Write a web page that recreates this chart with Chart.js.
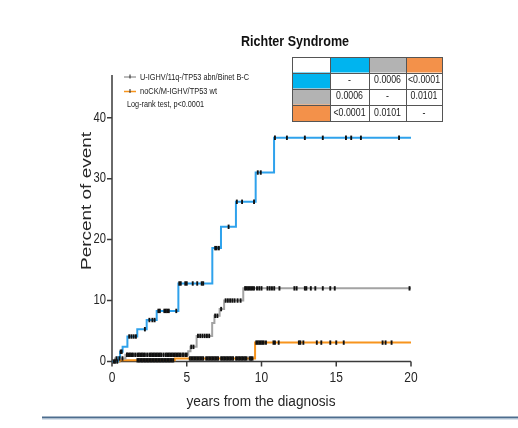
<!DOCTYPE html>
<html>
<head>
<meta charset="utf-8">
<script src="https://cdn.jsdelivr.net/npm/chart.js@4.4.0/dist/chart.umd.min.js"></script>
<style>
	html, body { margin: 0; padding: 0; background: #ffffff; }
	#grafico { display: block; }
</style>
</head>
<body>
<canvas id="grafico" width="518" height="428"></canvas>
<script>
var chartTitle = "Richter Syndrome";
var xAxisTitle = "years from the diagnosis";
var yAxisTitle = "Percent of event";
var xTicks = [0, 5, 10, 15, 20];
var yTicks = [0, 10, 20, 30, 40];
var legendLabels = ["U-IGHV/11q-/TP53 abn/Binet B-C", "noCK/M-IGHV/TP53 wt"];
var logRankText = "Log-rank test, p<0.0001";

// cumulative incidence steps (years, percent)
var blueTimes  = [0, 0.42, 0.54, 0.71, 1.03, 1.69, 2.32, 2.99, 4.44, 6.71, 7.29, 8.29, 9.61, 10.84, 20];
var blueValues = [0, 0.7, 1.6, 2.4, 4.1, 5.3, 6.8, 8.3, 12.8, 18.6, 22.1, 26.2, 31.0, 36.7, 36.7];
var greyTimes  = [0, 0.2, 0.9, 5.1, 5.25, 5.66, 6.7, 6.85, 7.2, 7.5, 8.78, 20];
var greyValues = [0, 0.5, 1.1, 1.7, 2.4, 4.2, 6.3, 7.5, 8.6, 10.0, 12.0, 12.0];
var orangeTimes  = [0, 0.5, 4.2, 9.57, 20];
var orangeValues = [0, 0.2, 0.5, 3.1, 3.1];

// censored observations (years)
var blueCensor = [0.2, 0.35, 0.58, 0.65, 1.15, 1.3, 1.45, 1.6, 2.2, 2.5, 2.7, 2.85, 3.1, 3.2, 3.5, 3.6, 3.7, 3.8, 4.3,
	4.5, 4.6, 4.9, 5.0, 5.4, 5.7, 6.0, 6.1, 6.9, 7.0, 7.15, 7.8, 8.35, 8.7, 9.5, 9.75, 9.95,
	10.9, 11.7, 12.9, 14.1, 15.65, 16.0, 16.65, 19.2];
var greyCensor = [0.1, 0.3, 0.5, 0.7, 1.0, 1.1, 1.2, 1.3, 1.4, 1.55, 1.7, 1.8, 1.9, 2.0, 2.1, 2.2, 2.35, 2.5, 2.6, 2.7,
	2.8, 2.9, 3.0, 3.1, 3.2, 3.3, 3.45, 3.6, 3.7, 3.8, 3.9, 4.0, 4.1, 4.2, 4.3, 4.4, 4.5, 4.6, 4.75, 4.9, 5.0,
	5.3, 5.45, 5.75, 5.9, 6.05, 6.2, 6.35, 6.5, 6.9, 7.05, 7.3, 7.6, 7.75, 7.9, 8.05, 8.2, 8.4, 8.6,
	8.9, 9.0, 9.1, 9.2, 9.3, 9.4, 9.5, 9.7, 9.85, 10.0, 10.4, 10.55, 10.7, 10.85, 11.2, 12.2, 12.35,
	12.9, 13.0, 13.3, 13.6, 14.1, 14.6, 14.9, 19.9];
var orangeCensor = [1.7, 1.8, 1.9, 2.0, 2.1, 2.2, 2.3, 2.4, 2.5, 2.6, 2.7, 2.8, 2.9, 3.0, 3.1, 3.2, 3.3, 3.4, 3.5, 3.6,
	3.7, 3.8, 3.9, 4.0, 4.1, 5.2, 5.3, 5.4, 5.5, 5.6, 5.7, 5.8, 5.9, 6.0, 6.1, 6.3, 6.4, 6.5, 6.6, 6.7, 6.8,
	6.9, 7.0, 7.1, 7.3, 7.4, 7.5, 7.6, 7.7, 7.8, 7.9, 8.0, 8.1, 8.3, 8.4, 8.5, 8.6, 8.7, 8.8, 8.9, 9.0, 9.2, 9.3, 9.4,
	9.65, 9.75, 9.85, 9.95, 10.05, 10.15, 10.3, 10.8, 10.9, 11.15, 12.5, 12.6, 12.8, 13.7, 14.0, 14.6,
	15.0, 15.5, 18.1, 18.3, 18.7];

// pairwise log-rank p values
var tableColors = ["#00b4ef", "#b3b3b3", "#f3914a"];
var pRow1 = ["-", "0.0006", "<0.0001"];
var pRow2 = ["0.0006", "-", "0.0101"];
var pRow3 = ["<0.0001", "0.0101", "-"];

var fontFamily = "'Liberation Sans', Arial, sans-serif";

function stepValue(times, values, t)
{
	var v = values[0];
	for(var i=0; i<times.length; i++)
	{
		if(times[i] <= t)
			v = values[i];
	}
	return v;
}

function curveData(times, values)
{
	var data = [];
	for(var i=0; i<times.length; i++)
		data.push({x: times[i], y: values[i]});
	return data;
}

function censorData(times, values, censor)
{
	var data = [];
	for(var i=0; i<censor.length; i++)
		data.push({x: censor[i], y: stepValue(times, values, censor[i])});
	return data;
}

function fitText(ctx, text, x, y, font, width, align)
{
	ctx.save();
	ctx.font = font;
	var natural = ctx.measureText(text).width;
	ctx.translate(x, y);
	ctx.scale(width / natural, 1);
	ctx.textAlign = align;
	ctx.textBaseline = "middle";
	ctx.fillText(text, 0, 0);
	ctx.restore();
}

function squeezeText(ctx, text, x, y, font, factor, align)
{
	ctx.save();
	ctx.font = font;
	ctx.translate(x, y);
	ctx.scale(factor, 1);
	ctx.textAlign = align;
	ctx.textBaseline = "middle";
	ctx.fillText(text, 0, 0);
	ctx.restore();
}

var axesPlugin = {
	id: "axesPlugin",
	beforeDatasetsDraw: function(chart)
	{
		var ctx = chart.ctx;
		var xs = chart.scales.x;
		var ys = chart.scales.y;
		var area = chart.chartArea;
		ctx.save();
		ctx.strokeStyle = "#3a3a3a";
		ctx.lineWidth = 1.5;
		ctx.beginPath();
		ctx.moveTo(area.left, area.top);
		ctx.lineTo(area.left, area.bottom);
		ctx.lineTo(area.right, area.bottom);
		for(var i=0; i<xTicks.length; i++)
		{
			var px = xs.getPixelForValue(xTicks[i]);
			ctx.moveTo(px, area.bottom);
			ctx.lineTo(px, area.bottom + 5);
		}
		for(var j=0; j<yTicks.length; j++)
		{
			var py = ys.getPixelForValue(yTicks[j]);
			ctx.moveTo(area.left, py);
			ctx.lineTo(area.left - 5, py);
		}
		ctx.stroke();
		ctx.restore();
	},
	afterDraw: function(chart)
	{
		var ctx = chart.ctx;
		var xs = chart.scales.x;
		var ys = chart.scales.y;
		var area = chart.chartArea;
		ctx.save();
		ctx.fillStyle = "#262626";

		for(var i=0; i<xTicks.length; i++)
			squeezeText(ctx, String(xTicks[i]), xs.getPixelForValue(xTicks[i]), area.bottom + 16, "15px " + fontFamily, 0.8, "center");
		for(var j=0; j<yTicks.length; j++)
			squeezeText(ctx, String(yTicks[j]), area.left - 6, ys.getPixelForValue(yTicks[j]), "14px " + fontFamily, 0.8, "right");

		fitText(ctx, xAxisTitle, 261, 402, "14px " + fontFamily, 149, "center");

		ctx.save();
		ctx.translate(87, 201);
		ctx.rotate(-Math.PI / 2);
		fitText(ctx, yAxisTitle, 0, 0, "15px " + fontFamily, 138, "center");
		ctx.restore();

		ctx.fillStyle = "#111111";
		fitText(ctx, chartTitle, 295, 42, "bold 15px " + fontFamily, 108, "center");

		// legend
		var legendColors = ["#777777", "#f7941d"];
		var legendY = [77, 91.5];
		for(var k=0; k<legendLabels.length; k++)
		{
			ctx.strokeStyle = legendColors[k];
			ctx.lineWidth = k == 0 ? 1 : 1.5;
			ctx.beginPath();
			ctx.moveTo(124, legendY[k]);
			ctx.lineTo(136, legendY[k]);
			ctx.stroke();
			ctx.strokeStyle = "#222222";
			ctx.lineWidth = 1;
			ctx.beginPath();
			ctx.moveTo(130, legendY[k] - 2.5);
			ctx.lineTo(130, legendY[k] + 1.5);
			ctx.stroke();
			ctx.fillStyle = "#222222";
			fitText(ctx, legendLabels[k], 140, legendY[k], "9.5px " + fontFamily, k == 0 ? 109 : 77, "left");
		}
		fitText(ctx, logRankText, 127, 104.5, "9.5px " + fontFamily, 77, "left");

		// p value table
		var cols = [292, 330, 369, 406, 442];
		var rows = [57, 72.5, 88.5, 104.5, 121];
		var pRows = [pRow1, pRow2, pRow3];
		for(var c=0; c<3; c++)
		{
			ctx.fillStyle = tableColors[c];
			ctx.fillRect(cols[c + 1], rows[0], cols[c + 2] - cols[c + 1], rows[1] - rows[0]);
			ctx.fillRect(cols[0], rows[c + 1], cols[1] - cols[0], rows[c + 2] - rows[c + 1]);
		}
		ctx.fillStyle = "#1a1a1a";
		for(var r=0; r<3; r++)
		{
			for(var q=0; q<3; q++)
			{
				var cx = (cols[q + 1] + cols[q + 2]) / 2;
				var cy = (rows[r + 1] + rows[r + 2]) / 2;
				squeezeText(ctx, pRows[r][q], cx, cy, "10px " + fontFamily, 0.88, "center");
			}
		}
		ctx.strokeStyle = "#555555";
		ctx.lineWidth = 1;
		ctx.beginPath();
		for(var a=0; a<cols.length; a++)
		{
			ctx.moveTo(cols[a] + 0.5, rows[0]);
			ctx.lineTo(cols[a] + 0.5, rows[rows.length - 1]);
		}
		for(var b=0; b<rows.length; b++)
		{
			ctx.moveTo(cols[0], Math.round(rows[b]) + 0.5);
			ctx.lineTo(cols[cols.length - 1] + 1, Math.round(rows[b]) + 0.5);
		}
		ctx.stroke();

		// bottom rule
		ctx.fillStyle = "#4d6d8e";
		ctx.fillRect(42, 416.5, 476, 2);
		ctx.fillStyle = "#b4c6d8";
		ctx.fillRect(42, 418.5, 476, 1);
		ctx.restore();
	}
};

function censorSet(times, values, censor)
{
	return {
		type: "scatter",
		data: censorData(times, values, censor),
		showLine: false,
		pointStyle: "line",
		rotation: 90,
		pointRadius: 2.2,
		borderColor: "#111111",
		backgroundColor: "#111111",
		pointBorderWidth: 1.9,
		clip: false,
		order: 0
	};
}

function lineSet(label, times, values, color, order)
{
	return {
		label: label,
		data: curveData(times, values),
		stepped: "before",
		borderColor: color,
		borderWidth: 2,
		pointRadius: 0,
		fill: false,
		clip: false,
		order: order
	};
}

var ctx = document.getElementById("grafico");
var myChart = new Chart(ctx, {
	type: "line",
	data: {
		datasets: [
			lineSet(legendLabels[0], blueTimes, blueValues, "#2fa2ec", 1),
			lineSet("", greyTimes, greyValues, "#a3a3a3", 2),
			lineSet(legendLabels[1], orangeTimes, orangeValues, "#f7941d", 3),
			censorSet(blueTimes, blueValues, blueCensor),
			censorSet(greyTimes, greyValues, greyCensor),
			censorSet(orangeTimes, orangeValues, orangeCensor)
		]
	},
	options: {
		responsive: false,
		animation: false,
		layout: {
			padding: {left: 112, right: 107, top: 75, bottom: 66.5}
		},
		scales: {
			x: {type: "linear", min: 0, max: 20, display: false},
			y: {type: "linear", min: 0, max: 47, display: false}
		},
		plugins: {
			legend: {display: false},
			tooltip: {enabled: false},
			title: {display: false}
		}
	},
	plugins: [axesPlugin]
});
</script>
</body>
</html>
